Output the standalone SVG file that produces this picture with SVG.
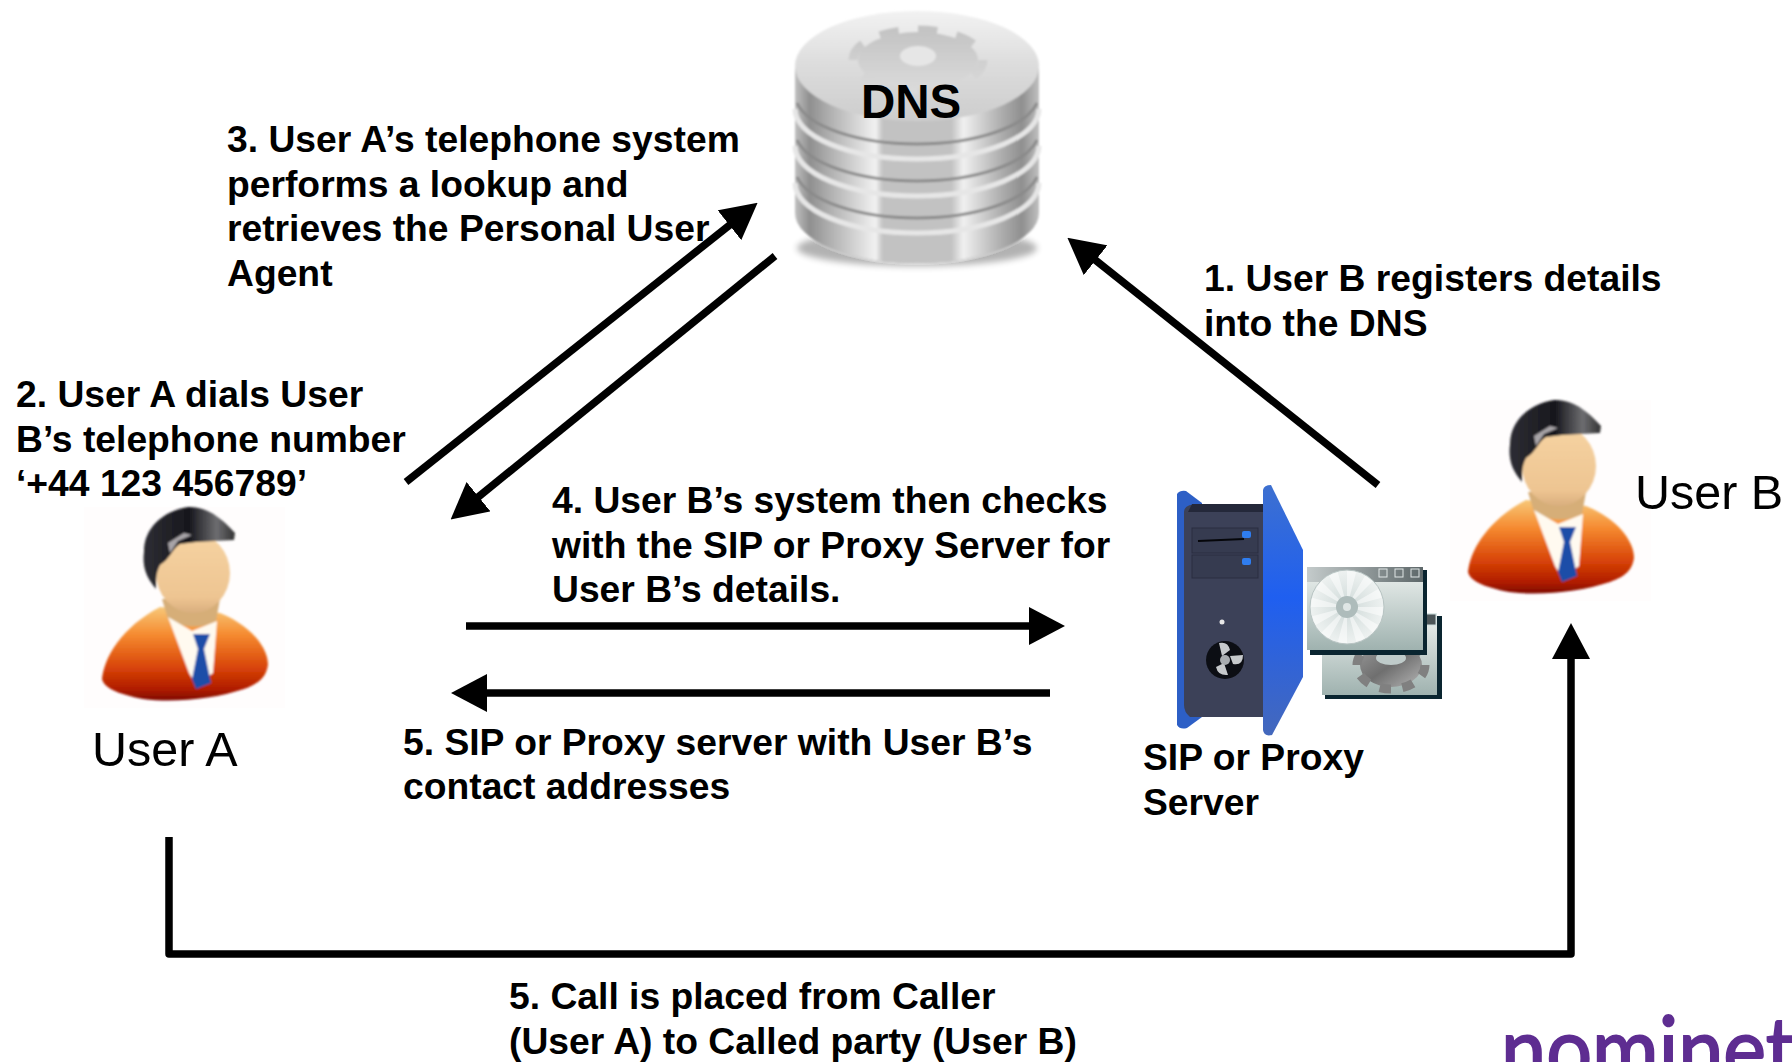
<svg xmlns="http://www.w3.org/2000/svg" xmlns:xlink="http://www.w3.org/1999/xlink" width="1792" height="1062" viewBox="0 0 1792 1062">
<style>
text{font-family:"Liberation Sans",Arial,sans-serif;fill:#000}
.b{font-weight:700;font-size:37.25px}
.u{font-size:48.5px}
.c{fill:none;stroke:#000;stroke-width:7.5}
</style>
<defs>
<marker id="ah" markerUnits="userSpaceOnUse" markerWidth="36" markerHeight="38" refX="2" refY="19" orient="auto"><path d="M0 0L36 19L0 38z" fill="#000"/></marker>
<linearGradient id="side" x1="0" x2="1" y1="0" y2="0">
<stop offset="0" stop-color="#c0c0c0"/><stop offset=".06" stop-color="#8f8f8f"/><stop offset=".13" stop-color="#ababab"/><stop offset=".27" stop-color="#dcdcdc"/><stop offset=".33" stop-color="#f2f2f2"/><stop offset=".36" stop-color="#c2c2c2"/><stop offset=".64" stop-color="#c2c2c2"/><stop offset=".69" stop-color="#f0f0f0"/><stop offset=".84" stop-color="#b0b0b0"/><stop offset=".93" stop-color="#8f8f8f"/><stop offset="1" stop-color="#c0c0c0"/>
</linearGradient>
<linearGradient id="top" x1="0" x2="0" y1="0" y2="1"><stop offset="0" stop-color="#f2f2f2"/><stop offset=".5" stop-color="#dcdcdc"/><stop offset="1" stop-color="#cdcdcd"/></linearGradient>
<linearGradient id="gear" x1="0" x2="0" y1="0" y2="1"><stop offset="0" stop-color="#c4c4c4"/><stop offset="1" stop-color="#dadada"/></linearGradient>
<linearGradient id="suit" x1="0" x2="0" y1="0" y2="1"><stop offset="0" stop-color="#f8c878"/><stop offset=".3" stop-color="#f58a30"/><stop offset=".65" stop-color="#d84408"/><stop offset=".88" stop-color="#b01c00"/><stop offset="1" stop-color="#7e0a00"/></linearGradient>
<linearGradient id="hair" x1="0" x2="1" y1="0" y2="0"><stop offset="0" stop-color="#2e2e34"/><stop offset=".5" stop-color="#17171d"/><stop offset=".8" stop-color="#6d6d70"/><stop offset="1" stop-color="#333"/></linearGradient>
<linearGradient id="skin" x1="0" x2="0" y1="0" y2="1"><stop offset="0" stop-color="#f6d3a2"/><stop offset=".8" stop-color="#eec592"/><stop offset="1" stop-color="#d9ae7e"/></linearGradient>
<linearGradient id="pan" x1="0" x2="0" y1="0" y2="1"><stop offset="0" stop-color="#3d70d0"/><stop offset=".45" stop-color="#1f5ff0"/><stop offset="1" stop-color="#4468bc"/></linearGradient>
<linearGradient id="win" x1="0" x2="0" y1="0" y2="1"><stop offset="0" stop-color="#eef2f0"/><stop offset="1" stop-color="#9fb2af"/></linearGradient>
<linearGradient id="bar" x1="0" x2="1" y1="0" y2="0"><stop offset="0" stop-color="#c4cbcb"/><stop offset="1" stop-color="#5d6769"/></linearGradient>
<linearGradient id="steel" x1="0" x2="1" y1="0" y2="1"><stop offset="0" stop-color="#9a9a9a"/><stop offset=".5" stop-color="#6f6f6f"/><stop offset="1" stop-color="#b5b5b5"/></linearGradient>
<radialGradient id="cd"><stop offset="0" stop-color="#c9d4d4"/><stop offset=".25" stop-color="#d6dfde"/><stop offset="1" stop-color="#eef2f1"/></radialGradient>
<filter id="soft" x="-5%" y="-5%" width="110%" height="110%"><feGaussianBlur stdDeviation="1"/></filter>
<filter id="soft3" x="-10%" y="-50%" width="120%" height="200%"><feGaussianBlur stdDeviation="3"/></filter>
<g id="person">
<rect width="201" height="201" fill="#fffdfd"/>
<g filter="url(#soft)">
<path d="M18 172C20 150 38 120 76 100L136 106C166 118 184 140 184 158C182 170 176 176 160 182C130 192 90 196 59 192C38 188 20 182 18 172z" fill="url(#suit)"/>
<path d="M78 92L136 92L132 114Q108 126 84 112z" fill="#d6ae78"/>
<path d="M84 110L108 124L133 114L129 166L112 178L105 166z" fill="#fffaf0"/>
<path d="M109 127H126L120 142L127 176L112 182L108 172L114 142z" fill="#1c4ea8"/>
<ellipse cx="109" cy="66" rx="37" ry="40" fill="url(#skin)"/>
<path d="M60 44C60 22 78 4 104 0C125 -1 140 14 151 26L150 33L112 35L96 37C88 42 86 52 76 58C72 66 72 72 72 82C62 70 58 60 60 44z" fill="url(#hair)"/>
<path d="M84 36L100 26L108 28L94 34L86 46z" fill="#a8a4a8"/>
</g>
</g>
</defs>

<g id="connectors">
<path class="c" d="M1378 485L1094 259" marker-end="url(#ah)"/>
<path class="c" d="M406 482L731 224" marker-end="url(#ah)"/>
<path class="c" d="M775 256L477 498" marker-end="url(#ah)"/>
<path class="c" d="M466 626H1031" marker-end="url(#ah)"/>
<path class="c" d="M1050 693H485" marker-end="url(#ah)"/>
<path class="c" stroke-linejoin="round" d="M169 837V954H1571V657" marker-end="url(#ah)"/>
</g>

<g id="dns">
<g id="dns-stack" filter="url(#soft)">
<ellipse cx="917" cy="248" rx="120" ry="18" fill="#000" opacity=".3" filter="url(#soft3)"/>
<path d="M795 213A122 50 0 0 0 1039 213V178H795z" fill="url(#side)"/>
<path d="M795 177A122 50 0 0 0 1039 177V142H795z" fill="url(#side)"/>
<path d="M797 177A122 50 0 0 0 1037 177" fill="none" stroke="#8a8a8a" stroke-width="3"/>
<path d="M795 183A122 50 0 0 0 1039 183" fill="none" stroke="#e6e6e6" stroke-width="5"/>
<path d="M795 140A122 50 0 0 0 1039 140V105H795z" fill="url(#side)"/>
<path d="M797 140A122 50 0 0 0 1037 140" fill="none" stroke="#8a8a8a" stroke-width="3"/>
<path d="M795 146A122 50 0 0 0 1039 146" fill="none" stroke="#e6e6e6" stroke-width="5"/>
<path d="M795 103A122 50 0 0 0 1039 103V68H795z" fill="url(#side)"/>
<path d="M797 103A122 50 0 0 0 1037 103" fill="none" stroke="#8a8a8a" stroke-width="3"/>
<path d="M795 109A122 50 0 0 0 1039 109" fill="none" stroke="#e6e6e6" stroke-width="5"/>
<ellipse cx="917" cy="66" rx="122" ry="55" fill="url(#top)"/>
<ellipse cx="918" cy="60" rx="60" ry="28" fill="url(#gear)"/>
<ellipse cx="918" cy="60" rx="65" ry="30" fill="none" stroke="url(#gear)" stroke-width="9" pathLength="16" stroke-dasharray="1 1"/>
<ellipse cx="918" cy="56" rx="18" ry="10" fill="#e6e6e6"/>
</g>
<text x="861" y="118" style="font-weight:700;font-size:47.5px">DNS</text>
</g>

<g id="sip-server">
<path d="M1177 494Q1180 490 1186 491L1202 503V717L1187 728Q1180 730 1177 725z" fill="#2d5fc6"/>
<path d="M1190 505H1265V717H1190Q1184 712 1184 705V512Q1184 507 1190 505z" fill="#3c4158"/>
<path d="M1192 504H1265V512H1188z" fill="#24283a"/>
<rect x="1192" y="528" width="66" height="25" fill="#363b50" stroke="#2a2e40"/>
<rect x="1192" y="555" width="66" height="23" fill="#363b50" stroke="#2a2e40"/>
<path d="M1198 541L1244 539" stroke="#05060a" stroke-width="2"/>
<rect x="1242" y="531" width="9" height="7" rx="2" fill="#2f7df0"/>
<rect x="1242" y="558" width="9" height="7" rx="2" fill="#2f7df0"/>
<circle cx="1222" cy="622" r="2.5" fill="#e8e8e8"/>
<circle cx="1225" cy="660" r="19" fill="#0c0e14"/>
<path d="M1222 656L1219 643Q1228 641 1230 650zM1230 656L1243 655Q1243 666 1233 664zM1224 663L1228 675Q1218 676 1216 667z" fill="#c6c9cc"/>
<circle cx="1225" cy="660" r="5" fill="#a8acb0"/>
<path d="M1263 490Q1264 485 1271 485L1303 550V677L1272 735Q1264 737 1263 730z" fill="url(#pan)"/>
</g>

<g id="sip-windows">
<rect x="1325" y="616" width="117" height="83" fill="#0a2530"/>
<rect x="1322" y="613" width="115" height="82" fill="url(#win)"/>
<rect x="1425" y="614" width="11" height="11" fill="#4c5558" stroke="#cdd" stroke-width="1"/>
<ellipse cx="1391" cy="665" rx="31" ry="22" fill="url(#steel)"/>
<ellipse cx="1391" cy="665" rx="34" ry="24" fill="none" stroke="#808080" stroke-width="9" pathLength="16" stroke-dasharray="1 1"/>
<ellipse cx="1391" cy="658" rx="15" ry="7" fill="#bfcbca"/>
<rect x="1310" y="570" width="117" height="85" fill="#0a2530"/>
<rect x="1307" y="567" width="116" height="83" fill="url(#win)"/>
<rect x="1307" y="567" width="116" height="15" fill="url(#bar)"/>
<rect x="1379" y="569" width="8" height="8" fill="none" stroke="#e0e6e6"/>
<rect x="1395" y="569" width="8" height="8" fill="none" stroke="#e0e6e6"/>
<rect x="1411" y="569" width="8" height="8" fill="none" stroke="#e0e6e6"/>
<circle cx="1347" cy="607" r="37" fill="url(#cd)" stroke="#b8c4c3"/>
<circle cx="1347" cy="607" r="23" fill="none" stroke="#fff" stroke-width="26" pathLength="24" stroke-dasharray="1 1" opacity=".5"/>
<circle cx="1347" cy="607" r="11" fill="#aebcbb"/>
<circle cx="1347" cy="607" r="4" fill="#dfe6e5"/>
<text class="b" x="1143" y="770">SIP or Proxy</text>
<text class="b" x="1143" y="815">Server</text>
</g>

<g id="user-a">
<use href="#person" xlink:href="#person" x="84" y="507"/>
<text class="u" x="92" y="766">User A</text>
</g>
<g id="user-b">
<use href="#person" xlink:href="#person" x="1450" y="400"/>
<text class="u" x="1635" y="509">User B</text>
</g>

<g id="label-1"><text class="b" x="1204" y="291">1. User B registers details</text><text class="b" x="1204" y="336">into the DNS</text></g>
<g id="label-2"><text class="b" x="16" y="407">2. User A dials User</text><text class="b" x="16" y="452">B’s telephone number</text><text class="b" x="16" y="496">‘+44 123 456789’</text></g>
<g id="label-3"><text class="b" x="227" y="152">3. User A’s telephone system</text><text class="b" x="227" y="197">performs a lookup and</text><text class="b" x="227" y="241">retrieves the Personal User</text><text class="b" x="227" y="286">Agent</text></g>
<g id="label-4"><text class="b" x="552" y="513">4. User B’s system then checks</text><text class="b" x="552" y="558">with the SIP or Proxy Server for</text><text class="b" x="552" y="602">User B’s details.</text></g>
<g id="label-5"><text class="b" x="403" y="755">5. SIP or Proxy server with User B’s</text><text class="b" x="403" y="799">contact addresses</text></g>
<g id="label-6"><text class="b" x="509" y="1009">5. Call is placed from Caller</text><text class="b" x="509" y="1054">(User A) to Called party (User B)</text></g>

<g id="logo"><text transform="translate(1501 1081) scale(.9 1)" style="font-family:Lato,sans-serif;font-size:90px;fill:#5e2d91;stroke:#5e2d91;stroke-width:2">nominet</text></g>
</svg>
